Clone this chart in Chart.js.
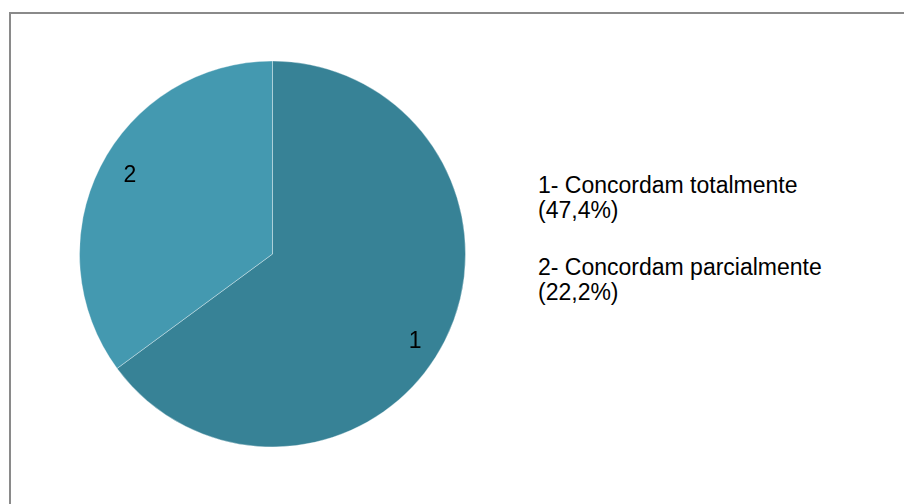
<!DOCTYPE html>
<html>
<head>
<meta charset="utf-8">
<script src="https://cdn.jsdelivr.net/npm/chart.js@4/dist/chart.umd.min.js"></script>
<style>
    html, body {
        margin: 0;
        padding: 0;
        background: #fff;
    }
    #frame {
        position: absolute;
        left: 9px;
        top: 12px;
        width: 920px;
        height: 520px;
        border: 2px solid #8a8a8a;
        box-sizing: border-box;
    }
    #pie-box {
        position: absolute;
        left: 79px;
        top: 60px;
        width: 387px;
        height: 388px;
    }
    #legend {
        position: absolute;
        left: 538px;
        top: 173px;
        font-family: Arial, "Liberation Sans", sans-serif;
        font-size: 23px;
        line-height: 25px;
        color: #000;
    }
    #legend .item {
        margin-bottom: 32px;
    }
</style>
</head>
<body>
<div id="frame"></div>
<div id="pie-box"><canvas id="chart-pie" width="387" height="388"></canvas></div>
<div id="legend"></div>

<script>
'use strict';

// share of each slice
const sliceLabels = ['1', '2'];
const sliceValues = [64.9, 35.1];
const sliceColors = ['#378296', '#4499b0'];

// legend text as printed beside the pie
const legendNames = ['1- Concordam totalmente', '2- Concordam parcialmente'];
const legendPercents = ['(47,4%)', '(22,2%)'];

function renderLegend() {
    const legend = document.getElementById('legend');
    for (let i = 0; i < legendNames.length; i++) {
        const item = document.createElement('div');
        item.className = 'item';
        const name = document.createElement('div');
        name.textContent = legendNames[i];
        const pct = document.createElement('div');
        pct.textContent = legendPercents[i];
        item.appendChild(name);
        item.appendChild(pct);
        legend.appendChild(item);
    }
}

// writes the slice number inside each slice, near the rim
// (excel puts them a touch further round than the exact middle)
const sliceNumbers = {
    id: 'sliceNumbers',
    afterDatasetsDraw: function (chart) {
        const ctx = chart.ctx;
        const arcs = chart.getDatasetMeta(0).data;
        ctx.save();
        ctx.font = '23px Arial, "Liberation Sans", sans-serif';
        ctx.fillStyle = '#000';
        ctx.textAlign = 'center';
        ctx.textBaseline = 'middle';
        arcs.forEach(function (arc, i) {
            const mid = (arc.startAngle + arc.endAngle) / 2 + 0.06;
            const r = arc.outerRadius * 0.855;
            ctx.fillText(sliceLabels[i], arc.x + Math.cos(mid) * r, arc.y + Math.sin(mid) * r + 5);
        });
        ctx.restore();
    }
};

function renderPie() {
    const ctx = document.getElementById('chart-pie');
    if (!ctx) {
        return;
    }

    const config = {
        type: 'pie',
        data: {
            labels: sliceLabels,
            datasets: [{
                data: sliceValues,
                backgroundColor: sliceColors,
                borderColor: 'rgba(255,255,255,0.35)',
                borderWidth: 1,
            }]
        },
        options: {
            responsive: false,
            animation: false,
            layout: {
                padding: 0
            },
            plugins: {
                legend: {
                    display: false
                },
                tooltip: {
                    enabled: false
                }
            }
        },
        plugins: [sliceNumbers]
    };

    new Chart(ctx, config);
}

renderLegend();
renderPie();
</script>
</body>
</html>
